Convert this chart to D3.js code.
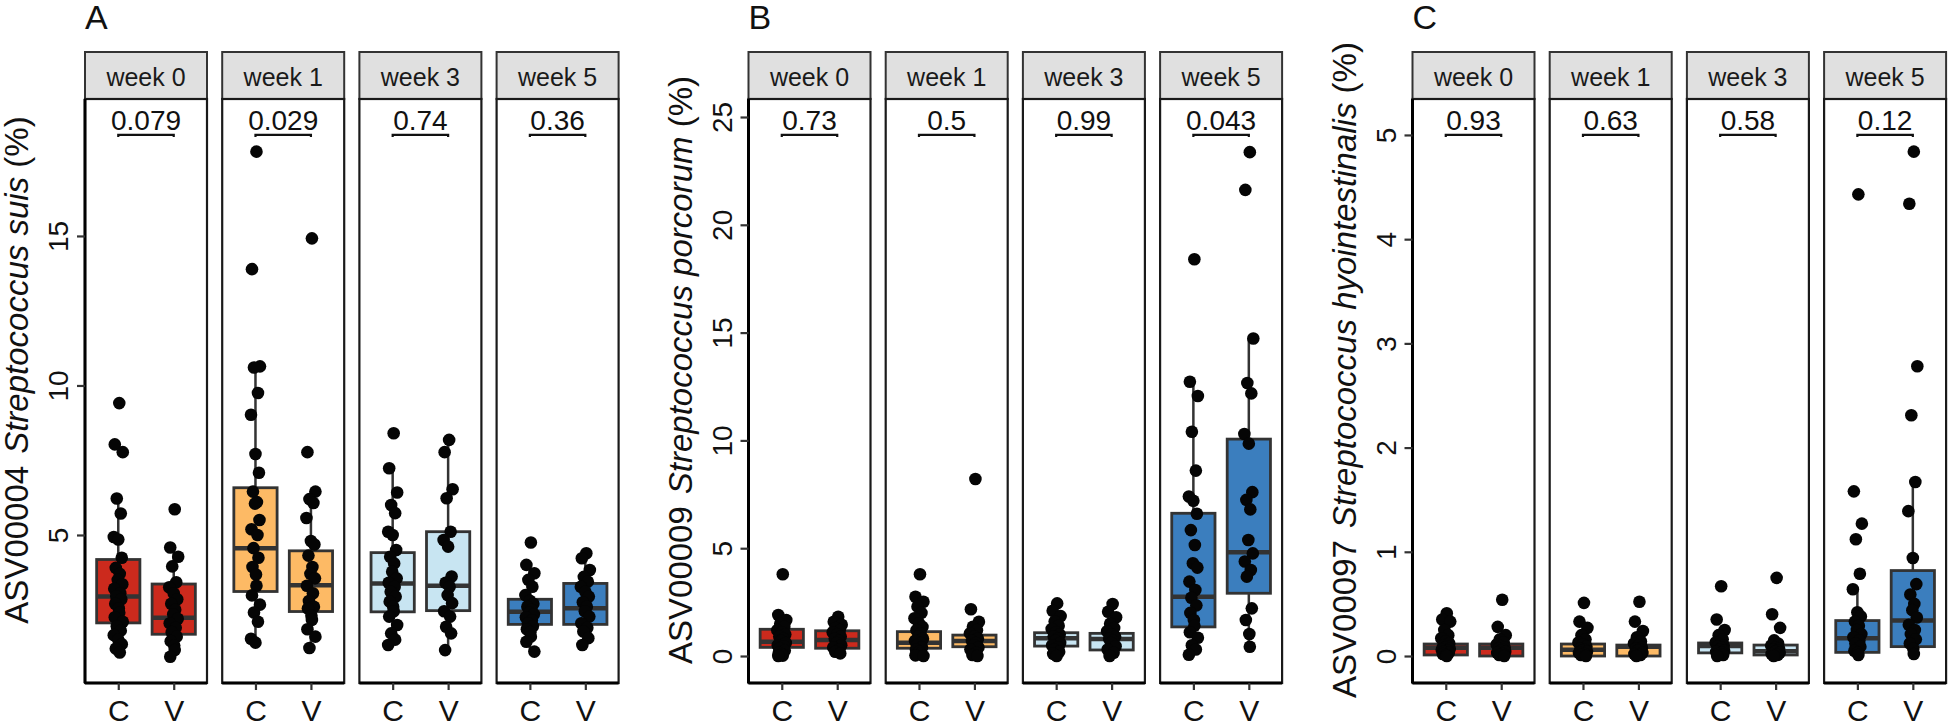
<!DOCTYPE html>
<html>
<head>
<meta charset="utf-8">
<script src="https://cdn.jsdelivr.net/npm/d3@7/dist/d3.min.js"></script>
<style>
  body { margin: 0; background: #fff; }
  svg text { font-family: "Liberation Sans", Arial, Helvetica, sans-serif; }
</style>
</head>
<body>
<div id="chart"></div>
<script>
// Facet categories and groups
var weeks = ["week 0", "week 1", "week 3", "week 5"];
var groups = ["C", "V"];

// Panel A: ASV00004 Streptococcus suis (%), one list per week
var suisC = [
  [9.41, 8.03, 7.77, 6.22, 5.72, 4.93, 4.85, 4.24, 3.9, 3.7, 3.5, 3.35, 3.2, 3.05, 2.95, 2.85, 2.7, 2.55, 2.4, 2.25, 2.1, 1.95, 1.8, 1.65, 1.5, 1.35, 1.2, 1.07],
  [17.82, 13.89, 10.64, 10.6, 9.75, 9.02, 7.71, 7.08, 6.45, 6.1, 6.05, 5.5, 5.19, 5.0, 4.56, 4.24, 3.93, 3.68, 3.3, 2.98, 2.67, 2.41, 2.1, 1.53, 1.4],
  [8.4, 7.23, 6.42, 6.0, 5.73, 5.11, 5.0, 4.5, 4.27, 4.05, 3.77, 3.55, 3.4, 3.27, 3.1, 2.94, 2.77, 2.6, 2.45, 2.27, 1.99, 1.71, 1.5, 1.32],
  [4.75, 4.0, 3.72, 3.5, 3.27, 2.99, 2.8, 2.7, 2.6, 2.5, 2.4, 2.35, 2.25, 2.15, 2.05, 1.95, 1.85, 1.75, 1.6, 1.43, 1.1]
];
var suisV = [
  [5.86, 4.58, 4.27, 3.95, 3.42, 3.25, 3.05, 2.85, 2.7, 2.5, 2.35, 2.2, 2.05, 1.9, 1.75, 1.6, 1.45, 1.3, 1.15, 0.93],
  [14.92, 7.77, 6.45, 6.2, 6.07, 5.57, 4.8, 4.68, 4.31, 3.93, 3.7, 3.55, 3.3, 3.05, 2.79, 2.6, 2.54, 2.3, 2.16, 1.85, 1.6, 1.22],
  [8.18, 7.77, 6.53, 6.23, 5.11, 4.83, 4.61, 3.61, 3.4, 3.27, 2.99, 2.72, 2.45, 2.27, 1.93, 1.71, 1.15],
  [4.39, 4.22, 3.83, 3.6, 3.44, 3.27, 3.1, 2.94, 2.75, 2.6, 2.45, 2.27, 2.05, 1.9, 1.77, 1.55, 1.32]
];
// box stats: [lower whisker, q1, median, q3, upper whisker]
var suisBoxC = [[1.07, 2.06, 2.94, 4.18, 6.22], [1.4, 3.11, 4.56, 6.58, 10.64], [1.32, 2.43, 3.38, 4.41, 7.23], [1.1, 2.01, 2.43, 2.85, 4.0]];
var suisBoxV = [[0.93, 1.68, 2.23, 3.36, 4.58], [1.22, 2.44, 3.32, 4.47, 6.45], [1.15, 2.47, 3.3, 5.11, 8.18], [1.32, 2.01, 2.55, 3.38, 4.39]];
var suisP = ["0.079", "0.029", "0.74", "0.36"];
var suisTicks = [5, 10, 15];

// Panel B: ASV00009 Streptococcus porcorum (%)
var porcC = [
  [3.79, 1.9, 1.67, 1.5, 1.35, 1.2, 1.1, 1.0, 0.9, 0.8, 0.7, 0.6, 0.5, 0.45, 0.35, 0.25, 0.15, 0.08, 0.02, 0.0],
  [3.79, 2.75, 2.52, 2.29, 2.0, 1.75, 1.52, 1.35, 1.2, 1.05, 0.9, 0.8, 0.7, 0.6, 0.5, 0.4, 0.3, 0.2, 0.1, 0.03, 0.0],
  [2.44, 2.1, 1.85, 1.6, 1.4, 1.25, 1.1, 1.0, 0.9, 0.8, 0.7, 0.6, 0.5, 0.4, 0.3, 0.2, 0.1, 0.0],
  [18.4, 12.72, 12.06, 10.4, 8.6, 7.4, 7.2, 6.6, 5.84, 5.15, 4.3, 4.1, 3.45, 3.06, 2.7, 2.35, 2.0, 1.67, 1.4, 1.1, 0.85, 0.5, 0.3, 0.06]
];
var porcV = [
  [1.82, 1.59, 1.45, 1.3, 1.2, 1.1, 1.0, 0.9, 0.8, 0.7, 0.6, 0.5, 0.4, 0.3, 0.2, 0.12],
  [8.21, 2.17, 1.59, 1.36, 1.2, 1.05, 0.9, 0.8, 0.7, 0.6, 0.5, 0.4, 0.3, 0.15, 0.05, 0.0],
  [2.41, 2.05, 1.8, 1.5, 1.3, 1.15, 1.0, 0.9, 0.8, 0.7, 0.6, 0.45, 0.3, 0.15, 0.0],
  [23.37, 21.62, 14.73, 12.66, 12.18, 10.3, 9.85, 7.6, 7.24, 6.8, 5.38, 4.76, 4.38, 3.99, 3.68, 2.21, 1.67, 1.02, 0.43]
];
var porcBoxC = [[0, 0.4, 0.66, 1.24, 1.9], [0, 0.36, 0.62, 1.13, 2.29], [0, 0.46, 0.82, 1.08, 2.0], [0.06, 1.35, 2.75, 6.62, 12.72]];
var porcBoxV = [[0.12, 0.36, 0.74, 1.17, 1.82], [0, 0.43, 0.7, 0.97, 1.59], [0, 0.28, 0.79, 1.05, 2.05], [0.43, 2.91, 4.81, 10.06, 14.73]];
var porcP = ["0.73", "0.5", "0.99", "0.043"];
var porcTicks = [0, 5, 10, 15, 20, 25];

// Panel C: ASV00097 Streptococcus hyointestinalis (%)
var hyoC = [
  [0.41, 0.35, 0.33, 0.25, 0.2, 0.17, 0.14, 0.12, 0.1, 0.09, 0.08, 0.07, 0.06, 0.05, 0.04, 0.03, 0.02, 0.01, 0.0],
  [0.51, 0.33, 0.27, 0.2, 0.16, 0.13, 0.11, 0.09, 0.07, 0.06, 0.05, 0.04, 0.03, 0.02, 0.01, 0.0],
  [0.67, 0.35, 0.25, 0.2, 0.16, 0.13, 0.11, 0.1, 0.09, 0.08, 0.06, 0.05, 0.04, 0.03, 0.02, 0.01, 0.0],
  [4.43, 1.58, 1.27, 1.12, 0.79, 0.64, 0.42, 0.38, 0.33, 0.29, 0.25, 0.21, 0.18, 0.15, 0.12, 0.09, 0.05, 0.03, 0.01]
];
var hyoV = [
  [0.54, 0.28, 0.2, 0.16, 0.13, 0.11, 0.09, 0.08, 0.07, 0.06, 0.05, 0.04, 0.03, 0.02, 0.01, 0.0],
  [0.52, 0.33, 0.24, 0.18, 0.14, 0.12, 0.1, 0.08, 0.07, 0.06, 0.05, 0.03, 0.02, 0.01, 0.0],
  [0.75, 0.4, 0.27, 0.15, 0.12, 0.1, 0.08, 0.07, 0.06, 0.05, 0.04, 0.03, 0.02, 0.01, 0.0],
  [4.84, 4.34, 2.78, 2.31, 1.67, 1.39, 0.94, 0.69, 0.59, 0.5, 0.44, 0.37, 0.3, 0.25, 0.21, 0.16, 0.12, 0.07, 0.02]
];
var hyoBoxC = [[0, 0.01, 0.08, 0.115, 0.25], [0, 0.0, 0.06, 0.115, 0.27], [0, 0.03, 0.095, 0.125, 0.25], [0.01, 0.035, 0.17, 0.34, 0.64]];
var hyoBoxV = [[0, 0.0, 0.08, 0.115, 0.2], [0, 0.0, 0.09, 0.105, 0.24], [0, 0.01, 0.045, 0.105, 0.15], [0.02, 0.09, 0.34, 0.82, 1.67]];
var hyoP = ["0.93", "0.63", "0.58", "0.12"];
var hyoTicks = [0, 1, 2, 3, 4, 5];

// Fixed jitter pattern (fraction of half-spread), only to spread dots sideways
var jitter = [0.2, -0.7, 0.9, -0.3, 0.5, -0.9, 0.0, 0.7, -0.5, 0.3, -0.1, 0.8, -0.8, 0.4, -0.4, 0.6, -0.6, 0.1];

var weekColors = ["#cc2a1d", "#fdba65", "#c8e5f2", "#3b7ebe"];

var width = 1952, height = 724;
var stripTop = 52, panelTop = 99, panelBottom = 683;
var facetW = 122, facetStep = 137.2;

var panels = [
  { letter: "A", x0: 85, asv: "ASV00004", species: "Streptococcus suis", C: suisC, V: suisV,
    boxC: suisBoxC, boxV: suisBoxV, p: suisP, ticks: suisTicks, domain: [0.05, 19.58], bracket: 18.38 },
  { letter: "B", x0: 748.5, asv: "ASV00009", species: "Streptococcus porcorum", C: porcC, V: porcV,
    boxC: porcBoxC, boxV: porcBoxV, p: porcP, ticks: porcTicks, domain: [-1.252, 25.835], bracket: 24.17 },
  { letter: "C", x0: 1412.5, asv: "ASV00097", species: "Streptococcus hyointestinalis", C: hyoC, V: hyoV,
    boxC: hyoBoxC, boxV: hyoBoxV, p: hyoP, ticks: hyoTicks, domain: [-0.259, 5.345], bracket: 5.0 }
];

var svg = d3.select("#chart").append("svg")
  .attr("width", width)
  .attr("height", height);

panels.forEach(drawPanel);

function drawPanel(pan) {
  var y = d3.scaleLinear().domain(pan.domain).range([panelBottom, panelTop]);
  var g = svg.append("g");

  // panel letter
  g.append("text")
    .attr("x", pan.x0)
    .attr("y", 29)
    .style("font-size", "34px")
    .style("fill", "#111")
    .text(pan.letter);

  // y axis title (rotated)
  var title = g.append("text")
    .attr("transform", "translate(" + (pan.x0 - 57) + ",370) rotate(-90)")
    .attr("text-anchor", "middle")
    .style("font-size", "33px")
    .style("fill", "#111");
  title.append("tspan").text(pan.asv);
  title.append("tspan").attr("dx", 12).style("font-style", "italic").text(pan.species);
  title.append("tspan").text(" (%)");

  weeks.forEach(function (wk, wi) {
    var fx = pan.x0 + wi * facetStep;
    var x = d3.scalePoint().domain(groups).range([fx, fx + facetW]).padding(0.6);
    var boxW = x.step() * 0.78;
    var f = g.append("g");

    // strip
    f.append("rect")
      .attr("x", fx).attr("y", stripTop)
      .attr("width", facetW).attr("height", panelTop - stripTop)
      .style("fill", "#e0e0e0")
      .style("stroke", "#333")
      .style("stroke-width", 2);
    f.append("text")
      .attr("x", fx + facetW / 2).attr("y", 86)
      .attr("text-anchor", "middle")
      .style("font-size", "25px")
      .style("fill", "#1a1a1a")
      .text(wk);

    // panel background
    f.append("rect")
      .attr("x", fx).attr("y", panelTop)
      .attr("width", facetW).attr("height", panelBottom - panelTop)
      .style("fill", "#fff");

    // boxplots
    groups.forEach(function (grp) {
      var b = (grp === "C" ? pan.boxC : pan.boxV)[wi];
      var cx = x(grp);
      f.append("line")
        .attr("x1", cx).attr("x2", cx)
        .attr("y1", y(b[0])).attr("y2", y(b[4]))
        .style("stroke", "#333").style("stroke-width", 2.5);
      f.append("rect")
        .attr("x", cx - boxW / 2).attr("y", y(b[3]))
        .attr("width", boxW).attr("height", Math.max(y(b[1]) - y(b[3]), 0.5))
        .style("fill", weekColors[wi])
        .style("stroke", "#333")
        .style("stroke-width", 2.8);
      f.append("line")
        .attr("x1", cx - boxW / 2).attr("x2", cx + boxW / 2)
        .attr("y1", y(b[2])).attr("y2", y(b[2]))
        .style("stroke", "#333").style("stroke-width", 4.5);
    });

    // jittered points
    groups.forEach(function (grp) {
      var vals = (grp === "C" ? pan.C : pan.V)[wi];
      f.selectAll(null)
        .data(vals)
        .enter()
        .append("circle")
        .attr("cx", function (d, i) { return x(grp) + jitter[i % jitter.length] * x.step() * 0.09; })
        .attr("cy", function (d) { return y(d); })
        .attr("r", 6.3)
        .style("fill", "#050505");
    });

    // p-value bracket
    var by = y(pan.bracket);
    f.append("path")
      .attr("d", "M" + x("C") + "," + (by + 2) + "V" + by + "H" + x("V") + "V" + (by + 2))
      .style("fill", "none")
      .style("stroke", "#111")
      .style("stroke-width", 2.2);
    f.append("text")
      .attr("x", fx + facetW / 2).attr("y", by - 5)
      .attr("text-anchor", "middle")
      .style("font-size", "28px")
      .style("fill", "#111")
      .text(pan.p[wi]);

    // panel border
    f.append("rect")
      .attr("x", fx).attr("y", panelTop)
      .attr("width", facetW).attr("height", panelBottom - panelTop)
      .style("fill", "none")
      .style("stroke", "#1a1a1a")
      .style("stroke-width", 2.2);

    // x axis
    var xa = f.append("g")
      .attr("transform", "translate(0," + panelBottom + ")")
      .call(d3.axisBottom(x).tickSize(7).tickPadding(10));
    xa.select(".domain")
      .attr("d", "M" + fx + ",0H" + (fx + facetW))
      .style("stroke", "#000").style("stroke-width", 3.2);
    xa.selectAll(".tick line").style("stroke", "#333").style("stroke-width", 2.2);
    xa.selectAll(".tick text")
      .style("font-size", "30px")
      .style("font-family", "Liberation Sans, Arial, sans-serif")
      .style("fill", "#111");

    // y axis on the first facet only
    if (wi === 0) {
      var ya = f.append("g")
        .attr("transform", "translate(" + fx + ",0)")
        .call(d3.axisLeft(y).tickValues(pan.ticks).tickSize(8).tickFormat(d3.format("d")));
      ya.select(".domain")
        .attr("d", "M0," + panelTop + "V" + panelBottom)
        .style("stroke", "#000").style("stroke-width", 3);
      ya.selectAll(".tick line").style("stroke", "#333").style("stroke-width", 2.2);
      ya.selectAll(".tick text")
        .attr("x", 0)
        .attr("y", -17)
        .attr("dy", null)
        .attr("transform", "rotate(-90)")
        .attr("text-anchor", "middle")
        .style("font-size", "28px")
        .style("font-family", "Liberation Sans, Arial, sans-serif")
        .style("fill", "#111");
    }
  });
}
</script>
</body>
</html>
